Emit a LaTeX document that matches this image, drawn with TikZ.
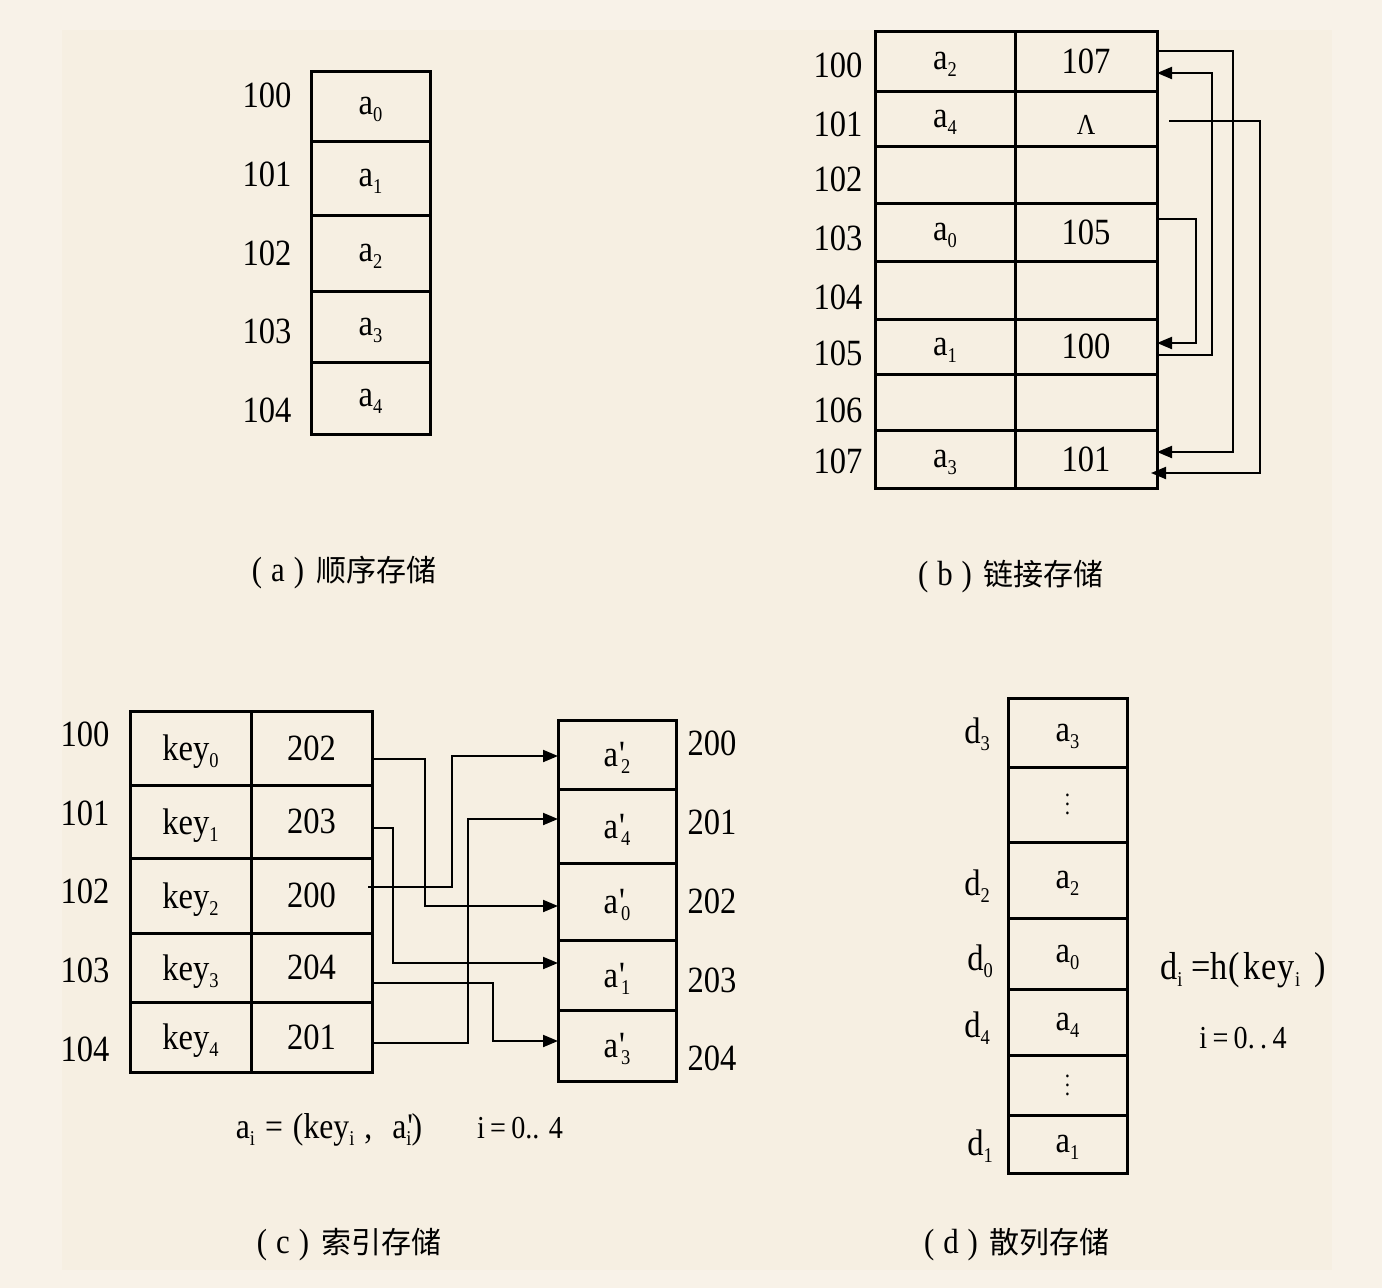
\documentclass[tikz,border=0pt]{standalone}
\usepackage{fontspec}
\setmainfont{Liberation Serif}[FakeStretch=0.88]
\newfontfamily\quotefont{Liberation Serif}[FakeStretch=0.88]
\newfontfamily\cjk{Noto Sans CJK SC}
\usetikzlibrary{arrows.meta}
\definecolor{outerbg}{RGB}{248,242,232}
\definecolor{innerbg}{RGB}{246,239,226}
\newcommand\mainsz{\fontsize{37}{44}\selectfont}
\newcommand\mysub[1]{\smash{\raisebox{-7pt}{\fontsize{21}{21}\selectfont #1}}}
\newcommand\myprime{\rlap{\kern1pt{\quotefont '}}}
\newcommand\myvdots{{\fontsize{24}{24}\selectfont\vbox{\baselineskip=9pt\hbox{.}\hbox{.}\hbox{.}}}}
\newcommand\mycap[2]{{\fontsize{35}{40}\selectfont(\hspace{9pt}#1\hspace{9pt})}\hspace{12pt}{\cjk #2}}
\newcommand\mkcell[6]{\node[cellbox, minimum width={#4-#2}, minimum height={#5-#3}] (#1) at ({(#2+#4)/2},{(#3+#5)/2}) {#6};}
\tikzset{
  cellbox/.style={rectangle, draw, line width=3pt, inner sep=0pt, outer sep=0pt, text depth=0pt, font=\mainsz},
  lbl/.style={font=\mainsz, inner sep=0pt},
  conn/.style={line width=2pt, -{Triangle[length=15pt,width=12pt]}},
  captxt/.style={font=\fontsize{30}{36}\selectfont, inner sep=0pt},
}
\begin{document}
\begin{tikzpicture}[x=1pt,y=-1pt]
\fill[outerbg] (0,0) rectangle (1382,1288);
\fill[innerbg] (62,30) rectangle (1332,1270);
\useasboundingbox (0,0) rectangle (1382,1288);

% ---------- (a) ----------
\mkcell{a0}{311}{71}{430}{141}{a\mysub{0}}
\mkcell{a1}{311}{141}{430}{215}{a\mysub{1}}
\mkcell{a2}{311}{215}{430}{291}{a\mysub{2}}
\mkcell{a3}{311}{291}{430}{362}{a\mysub{3}}
\mkcell{a4}{311}{362}{430}{434}{a\mysub{4}}
\node[lbl] (la0) at (267,95) {100};
\node[lbl] (la1) at (267,174) {101};
\node[lbl] (la2) at (267,253) {102};
\node[lbl] (la3) at (267,331) {103};
\node[lbl] (la4) at (267,410) {104};
\node[captxt] (capa) at (344,573) {\mycap{a}{顺序存储}};

% ---------- (b) ----------
\mkcell{bk0}{875}{31}{1015}{91}{a\mysub{2}}
\mkcell{bv0}{1015}{31}{1157}{91}{107}
\mkcell{bk1}{875}{91}{1015}{146}{a\mysub{4}}
\mkcell{bv1}{1015}{91}{1157}{146}{\smash{\raisebox{-16pt}{\fontsize{29}{30}\selectfont Λ}}}
\mkcell{bk2}{875}{146}{1015}{203}{}
\mkcell{bv2}{1015}{146}{1157}{203}{}
\mkcell{bk3}{875}{203}{1015}{261}{a\mysub{0}}
\mkcell{bv3}{1015}{203}{1157}{261}{105}
\mkcell{bk4}{875}{261}{1015}{319}{}
\mkcell{bv4}{1015}{261}{1157}{319}{}
\mkcell{bk5}{875}{319}{1015}{374}{a\mysub{1}}
\mkcell{bv5}{1015}{319}{1157}{374}{100}
\mkcell{bk6}{875}{374}{1015}{430}{}
\mkcell{bv6}{1015}{374}{1157}{430}{}
\mkcell{bk7}{875}{430}{1015}{488}{a\mysub{3}}
\mkcell{bv7}{1015}{430}{1157}{488}{101}
\node[lbl] (lb0) at (838,65) {100};
\node[lbl] (lb1) at (838,124) {101};
\node[lbl] (lb2) at (838,179) {102};
\node[lbl] (lb3) at (838,238) {103};
\node[lbl] (lb4) at (838,297) {104};
\node[lbl] (lb5) at (838,353) {105};
\node[lbl] (lb6) at (838,410) {106};
\node[lbl] (lb7) at (838,461) {107};
\draw[conn] ([yshift=10pt]bv0.east) -- ++(76,0) |- ([yshift=7pt]bv7.east);
\draw[conn] ([yshift=-8.5pt]bv5.east) -- ++(55,0) |- ([yshift=-12pt]bv0.east);
\draw[conn] ([xshift=12pt,yshift=-2.5pt]bv1.east) -- ++(91,0) |- ([xshift=-6pt,yshift=-14pt]bv7.east);
\draw[conn] ([yshift=13pt]bv3.east) -- ++(39,0) |- ([yshift=3.5pt]bv5.east);
\node[captxt] (capb) at (1011,577) {\mycap{b}{链接存储}};

% ---------- (c) ----------
\mkcell{ck0}{130}{711}{251}{785}{key\mysub{0}}
\mkcell{cv0}{251}{711}{372}{785}{202}
\mkcell{ck1}{130}{785}{251}{858}{key\mysub{1}}
\mkcell{cv1}{251}{785}{372}{858}{203}
\mkcell{ck2}{130}{858}{251}{933}{key\mysub{2}}
\mkcell{cv2}{251}{858}{372}{933}{200}
\mkcell{ck3}{130}{933}{251}{1002}{key\mysub{3}}
\mkcell{cv3}{251}{933}{372}{1002}{204}
\mkcell{ck4}{130}{1002}{251}{1072}{key\mysub{4}}
\mkcell{cv4}{251}{1002}{372}{1072}{201}
\mkcell{cr0}{558}{720}{676}{789}{a\myprime\mysub{\kern3pt 2}}
\mkcell{cr1}{558}{789}{676}{863}{a\myprime\mysub{\kern3pt 4}}
\mkcell{cr2}{558}{863}{676}{940}{a\myprime\mysub{\kern3pt 0}}
\mkcell{cr3}{558}{940}{676}{1010}{a\myprime\mysub{\kern3pt 1}}
\mkcell{cr4}{558}{1010}{676}{1081}{a\myprime\mysub{\kern3pt 3}}
\node[lbl] (lc0) at (85,734) {100};
\node[lbl] (lc1) at (85,813) {101};
\node[lbl] (lc2) at (85,891) {102};
\node[lbl] (lc3) at (85,970) {103};
\node[lbl] (lc4) at (85,1049) {104};
\node[lbl] (rc0) at (712,743) {200};
\node[lbl] (rc1) at (712,822) {201};
\node[lbl] (rc2) at (712,901) {202};
\node[lbl] (rc3) at (712,980) {203};
\node[lbl] (rc4) at (712,1058) {204};
\draw[conn] ([yshift=-11pt]cv0.east) -- ++(53,0) |- ([yshift=-4.5pt]cr2.west);
\draw[conn] ([yshift=-6.5pt]cv1.east) -- ++(21,0) |- ([yshift=12pt]cr3.west);
\draw[conn] ([xshift=-4pt,yshift=8.5pt]cv2.east) -- ++(84,0) |- ([yshift=-1.5pt]cr0.west);
\draw[conn] ([yshift=-15.5pt]cv3.east) -- ++(121,0) |- ([yshift=4.5pt]cr4.west);
\draw[conn] ([yshift=-6pt]cv4.east) -- ++(96,0) |- ([yshift=7pt]cr1.west);
\node[inner sep=0pt, font=\fontsize{36}{42}\selectfont] (fc1) at (329,1130) {a\mysub{i}\;=\;(key\mysub{i}\;,\;\;a\myprime\mysub{i})};
\node[inner sep=0pt, font=\fontsize{32}{38}\selectfont] (fc2) at (520,1128) {i\,=\,0.. 4};
\node[captxt] (capc) at (349,1245) {\mycap{c}{索引存储}};

% ---------- (d) ----------
\mkcell{dc0}{1008}{698}{1127}{767}{a\mysub{3}}
\mkcell{dc1}{1008}{767}{1127}{842}{\myvdots}
\mkcell{dc2}{1008}{842}{1127}{918}{a\mysub{2}}
\mkcell{dc3}{1008}{918}{1127}{989}{a\mysub{0}}
\mkcell{dc4}{1008}{989}{1127}{1055}{a\mysub{4}}
\mkcell{dc5}{1008}{1055}{1127}{1115}{\myvdots}
\mkcell{dc6}{1008}{1115}{1127}{1173}{a\mysub{1}}
\node[lbl] (ld0) at (977,731) {d\mysub{3}};
\node[lbl] (ld2) at (977,883) {d\mysub{2}};
\node[lbl] (ld3) at (980,958) {d\mysub{0}};
\node[lbl] (ld4) at (977,1025) {d\mysub{4}};
\node[lbl] (ld6) at (980,1143) {d\mysub{1}};
\node[inner sep=0pt, font=\fontsize{39}{46}\selectfont] (fd1) at (1243,970) {d\mysub{i}\kern9pt=h(\kern4pt k\kern1pt e\kern1pt y\mysub{i}\kern14pt)};
\node[inner sep=0pt, font=\fontsize{32}{38}\selectfont] (fd2) at (1243,1038) {i\,=\,0.\,.\,4};
\node[captxt] (capd) at (1017,1245) {\mycap{d}{散列存储}};
\end{tikzpicture}
\end{document}
